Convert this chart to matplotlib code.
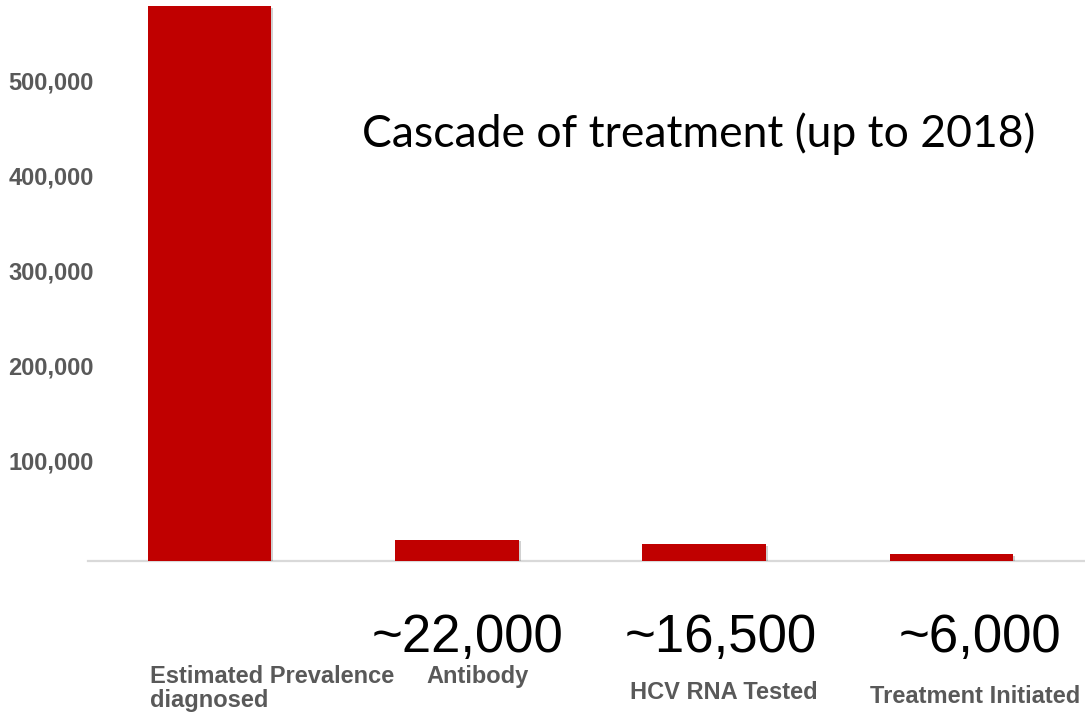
import matplotlib
matplotlib.use("Agg")
import matplotlib.pyplot as plt
import matplotlib.patheffects as pe
import matplotlib.transforms as mtransforms

# values
categories = ["Estimated Prevalence\ndiagnosed", "Antibody", "HCV RNA Tested", "Treatment Initiated"]
counts = [584000, 22000, 17500, 7000]
count_labels = ["", "~22,000", "~16,500", "~6,000"]
y_ticks = [100000, 200000, 300000, 400000, 500000]
title = "Cascade of treatment (up to 2018)"

RED = "#c00000"
GREY = "#595959"
W, H = 1085, 714


def fig_xy(x, y):
    return x / W, 1 - y / H


fig = plt.figure(figsize=(W / 100, H / 100), dpi=100)
ax = fig.add_axes([88 / W, 1 - 561 / H, 1 - 88 / W, 561 / H])

x = range(len(categories))
bars = ax.bar(x, counts, width=0.5, color=RED, zorder=3)
for bar in bars:
    bar.set_path_effects([
        pe.SimplePatchShadow(offset=(1.5, -1), shadow_rgbFace="#000000", alpha=0.18),
        pe.Normal(),
    ])

ax.set_xlim(-0.491, 3.54)
ax.set_ylim(0, 561 / 95 * 100000)
ax.set_xticks([])
ax.set_yticks([])

# y tick labels drawn by hand: slide renders them a few px above the gridpoint
tick_trans = mtransforms.offset_copy(
    mtransforms.blended_transform_factory(ax.transAxes, ax.transData),
    fig=fig, x=6, y=3, units="dots")
for v in y_ticks:
    ax.text(0, v, f"{v:,.0f}", transform=tick_trans, ha="right", va="center",
            fontsize=17, fontweight="bold", family="Liberation Sans", color=GREY,
            clip_on=False)

for side in ("top", "right", "left"):
    ax.spines[side].set_visible(False)
ax.spines["bottom"].set_color("#d9d9d9")
ax.spines["bottom"].set_linewidth(1.6)
ax.patch.set_alpha(0)

# title inside the plot area
fig.text(*fig_xy(699, 147), title, ha="center", va="baseline",
         fontsize=32, family="Lato", color="black")

# approximate counts under the small bars
count_pos = [None, (468, 652), (721, 652), (980, 652)]
for lab, pos in zip(count_labels, count_pos):
    if pos:
        fig.text(*fig_xy(*pos), lab, ha="center", va="baseline",
                 fontsize=38, family="Liberation Sans", color="black")

# category labels (placed as on the slide)
cat_pos = [(150, 683, "left"), (478, 683, "center"), (724, 699, "center"), (975, 703, "center")]
for lab, (cx, cy, ha) in zip(categories, cat_pos):
    for i, line in enumerate(lab.split("\n")):
        fig.text(*fig_xy(cx, cy + i * 24), line, ha=ha, va="baseline",
                 fontsize=17, fontweight="bold", family="Liberation Sans", color=GREY)

fig.savefig("out.png", dpi=100)
